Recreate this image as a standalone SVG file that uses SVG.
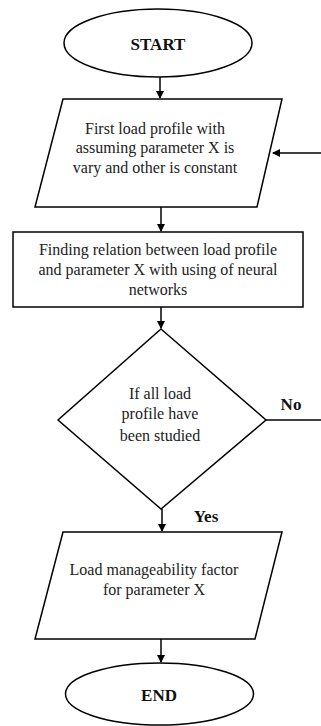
<svg xmlns="http://www.w3.org/2000/svg" width="321" height="726" viewBox="0 0 321 726">
<defs>
<marker id="ah" markerWidth="8" markerHeight="8" refX="7" refY="4" orient="auto" markerUnits="userSpaceOnUse">
<path d="M0,0 L8,4 L0,8 Z" fill="#000"/>
</marker>
<style>
.s{fill:#fff;stroke:#000;stroke-width:1.5}
.c{fill:none;stroke:#000;stroke-width:1.5}
</style>
</defs>
<rect width="321" height="726" fill="#fff"/>
<g id="connectors">
<line class="c" x1="160" y1="77" x2="160" y2="98" marker-end="url(#ah)"/>
<line class="c" x1="321" y1="153" x2="273" y2="153" marker-end="url(#ah)"/>
<line class="c" x1="161" y1="207" x2="161" y2="231" marker-end="url(#ah)"/>
<line class="c" x1="161" y1="307" x2="161" y2="328" marker-end="url(#ah)"/>
<line class="c" x1="266" y1="420" x2="321" y2="420"/>
<line class="c" x1="162" y1="509" x2="162" y2="531" marker-end="url(#ah)"/>
<line class="c" x1="161" y1="639" x2="161" y2="662" marker-end="url(#ah)"/>
</g>
<g id="start">
<ellipse class="s" cx="158" cy="43" rx="94" ry="34"/>
<text x="158" y="50" font-family="Liberation Serif" font-size="17" font-weight="bold" fill="#111" text-anchor="middle">START</text>
</g>
<g id="input1" font-family="Liberation Serif" font-size="16" fill="#222" text-anchor="middle">
<polygon class="s" points="63,99 282,99 257,207 35,207"/>
<text x="155" y="134">First load profile with</text>
<text x="155" y="153">assuming parameter X is</text>
<text x="155" y="173">vary and other is constant</text>
</g>
<g id="process" font-family="Liberation Serif" font-size="16" fill="#222" text-anchor="middle">
<rect class="s" x="13" y="232" width="290" height="75"/>
<text x="158" y="255">Finding relation between load profile</text>
<text x="158" y="275">and parameter X with using of neural</text>
<text x="158" y="295">networks</text>
</g>
<g id="decision" font-family="Liberation Serif" font-size="16" fill="#222" text-anchor="middle">
<polygon class="s" points="161,329 266,420 161,509 58,420"/>
<text x="160" y="399">If all load</text>
<text x="160" y="419">profile have</text>
<text x="160" y="441">been studied</text>
</g>
<g id="labels" font-family="Liberation Serif" font-size="17" font-weight="bold" fill="#111" text-anchor="middle">
<text x="291" y="410">No</text>
<text x="206" y="522">Yes</text>
</g>
<g id="output" font-family="Liberation Serif" font-size="16" fill="#222" text-anchor="middle">
<polygon class="s" points="63,532 282,532 255,639 35,639"/>
<text x="154" y="575">Load manageability factor</text>
<text x="154" y="595">for parameter X</text>
</g>
<g id="end">
<ellipse class="s" cx="159.5" cy="694" rx="94" ry="31"/>
<text x="159" y="701" font-family="Liberation Serif" font-size="17" font-weight="bold" fill="#111" text-anchor="middle">END</text>
</g>
</svg>
